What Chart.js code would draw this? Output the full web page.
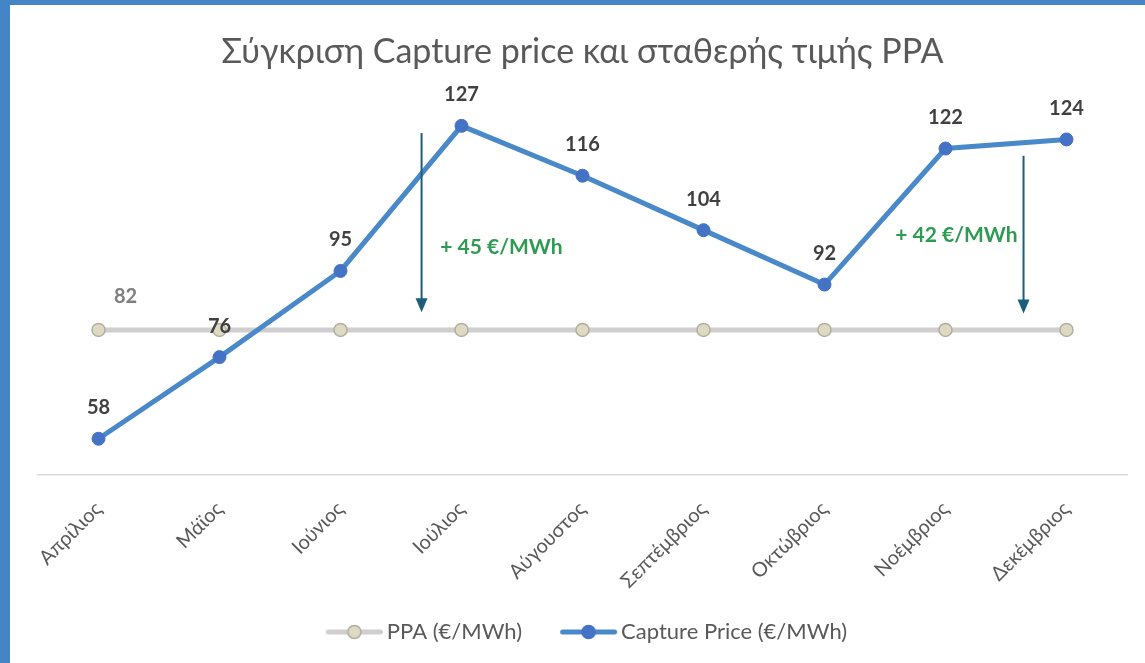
<!DOCTYPE html>
<html>
<head>
<meta charset="utf-8">
<script src="https://cdn.jsdelivr.net/npm/chart.js@4"></script>
<style>
  html, body { margin: 0; padding: 0; background: #fff; }
  .frame { width: 1135px; height: 658px; border-top: 5px solid #4585c6; border-left: 10px solid #4585c6; }
  canvas { display: block; }
</style>
</head>
<body>
<div class="frame"><canvas id="chart" width="1135" height="658"></canvas></div>
<script>
const months = ['Απρίλιος', 'Μάϊος', 'Ιούνιος', 'Ιούλιος', 'Αύγουστος', 'Σεπτέμβριος', 'Οκτώβριος', 'Νοέμβριος', 'Δεκέμβριος'];
const capturePrice = [58, 76, 95, 127, 116, 104, 92, 122, 124];
const ppaPrice = [82, 82, 82, 82, 82, 82, 82, 82, 82];

// βέλη διαφοράς (θέση σε δείκτη μήνα και τιμή €/MWh)
const arrowX = [2.67, 7.645];
const arrowTop = [125.4, 120.4];
const arrowBottom = [85.9, 85.6];
const diffText = ['+ 45 €/MWh', '+ 42 €/MWh'];
const diffX = [3.33, 7.09];
const diffY = [100.2, 102.9];

const FONT = 'Lato, "Open Sans", sans-serif';
const SYMBOL_BOX = 82;

// σύμβολο υπομνήματος: γραμμή + κύκλος (κεντράρεται στο κουτί του legend)
function legendSymbol(lineColor, fill, stroke) {
    const c = document.createElement('canvas');
    c.width = SYMBOL_BOX + 20; c.height = 18;
    const g = c.getContext('2d');
    const x0 = SYMBOL_BOX - 37.5, x1 = SYMBOL_BOX + 14.5;
    g.strokeStyle = lineColor;
    g.lineWidth = 5;
    g.lineCap = 'round';
    g.beginPath(); g.moveTo(x0, 9); g.lineTo(x1, 9); g.stroke();
    g.fillStyle = fill;
    g.strokeStyle = stroke;
    g.lineWidth = 1.5;
    g.beginPath(); g.arc((x0 + x1) / 2, 9, 6.5, 0, Math.PI * 2); g.fill(); g.stroke();
    return c;
}

// το κενό αριστερά του πρώτου συμβόλου μετατοπίζει το υπόμνημα, το διορθώνουμε
const legendShift = {
    id: 'legendShift',
    afterLayout(chart) {
        chart.legend.left -= 12;
        chart.legend.right -= 12;
    }
};

const labelsPlugin = {
    id: 'labelsPlugin',
    afterDatasetsDraw(chart) {
        const ctx = chart.ctx;
        const x = chart.scales.x;
        const y = chart.scales.y;
        ctx.save();
        ctx.textAlign = 'center';
        ctx.textBaseline = 'middle';

        // ετικέτες Capture price
        ctx.font = 'bold 20px ' + FONT;
        ctx.fillStyle = '#404040';
        chart.getDatasetMeta(1).data.forEach((pt, i) => {
            ctx.fillText(capturePrice[i], pt.x, pt.y - 31);
        });

        // ετικέτα PPA (μόνο η πρώτη)
        const p0 = chart.getDatasetMeta(0).data[0];
        ctx.fillStyle = '#7f7f7f';
        ctx.fillText(ppaPrice[0], p0.x + 27, p0.y - 33);

        // βέλη
        ctx.strokeStyle = '#1b5e7b';
        ctx.fillStyle = '#1b5e7b';
        ctx.lineWidth = 2;
        arrowX.forEach((ax, i) => {
            const px = x.getPixelForValue(ax);
            const top = y.getPixelForValue(arrowTop[i]);
            const tip = y.getPixelForValue(arrowBottom[i]);
            ctx.beginPath(); ctx.moveTo(px, top); ctx.lineTo(px, tip - 12); ctx.stroke();
            ctx.beginPath();
            ctx.moveTo(px - 6, tip - 14);
            ctx.lineTo(px + 6, tip - 14);
            ctx.lineTo(px, tip);
            ctx.closePath(); ctx.fill();
        });

        // κείμενο διαφοράς
        ctx.fillStyle = '#2e9a52';
        ctx.font = 'bold 21px ' + FONT;
        diffText.forEach((t, i) => {
            ctx.fillText(t, x.getPixelForValue(diffX[i]), y.getPixelForValue(diffY[i]));
        });
        ctx.restore();
    }
};

const symbols = [
    legendSymbol('#d0cece', '#ddd9c3', '#b3ae9e'),
    legendSymbol('#4a89c9', '#4472c4', '#4472c4')
];

new Chart(document.getElementById('chart'), {
    type: 'line',
    data: {
        labels: months,
        datasets: [
            {
                label: 'PPA (€/MWh)',
                data: ppaPrice,
                borderColor: '#d0cece',
                borderWidth: 5,
                pointRadius: 6.5,
                pointBackgroundColor: '#ddd9c3',
                pointBorderColor: '#b3ae9e',
                pointBorderWidth: 1.5,
                order: 2
            },
            {
                label: 'Capture Price (€/MWh)',
                data: capturePrice,
                borderColor: '#4a89c9',
                borderWidth: 5,
                pointRadius: 6.5,
                pointBackgroundColor: '#4472c4',
                pointBorderColor: '#4472c4',
                pointBorderWidth: 1,
                order: 1
            }
        ]
    },
    options: {
        responsive: false,
        animation: false,
        layout: { padding: { left: 28, right: 18, top: 0, bottom: 10 } },
        scales: {
            x: {
                offset: true,
                grid: { display: false, drawTicks: false },
                border: { color: '#d9d9d9', width: 1.5 },
                ticks: {
                    color: '#595959',
                    font: { family: FONT, size: 20 },
                    minRotation: 45,
                    maxRotation: 45,
                    padding: 22
                }
            },
            y: { display: false, min: 50, max: 138.7 }
        },
        plugins: {
            title: {
                display: true,
                text: 'Σύγκριση Capture price και σταθερής τιμής PPA',
                color: '#595959',
                font: { family: FONT, size: 34, weight: 'normal' },
                padding: { top: 27, bottom: 0 }
            },
            legend: {
                position: 'bottom',
                labels: {
                    usePointStyle: true,
                    pointStyleWidth: SYMBOL_BOX,
                    color: '#595959',
                    font: { family: FONT, size: 22 },
                    padding: 6,
                    generateLabels: (chart) => chart.data.datasets.map((ds, i) => ({
                        text: ds.label,
                        pointStyle: symbols[i],
                        fillStyle: ds.borderColor,
                        strokeStyle: ds.borderColor,
                        lineWidth: 0,
                        fontColor: '#595959',
                        hidden: false,
                        datasetIndex: i
                    }))
                }
            },
            tooltip: { enabled: false }
        }
    },
    plugins: [labelsPlugin, legendShift]
});
</script>
</body>
</html>
